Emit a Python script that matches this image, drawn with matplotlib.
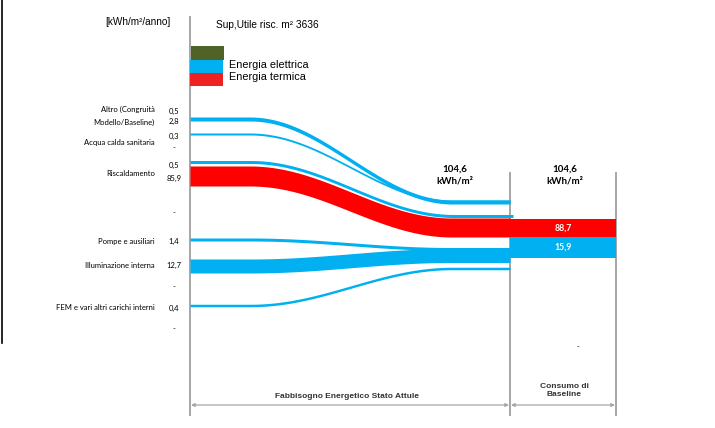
import numpy as np
import matplotlib
matplotlib.use("Agg")
import matplotlib.pyplot as plt
from matplotlib.patches import Rectangle

# --- data -------------------------------------------------------------
categories = ["Altro (Congruità\nModello/Baseline)", "Acqua calda sanitaria",
              "Riscaldamento", "Pompe e ausiliari", "Illuminazione interna",
              "FEM e vari altri carichi interni"]
value_labels = ["0,5", "2,8", "0,3", "-", "0,5", "85,9", "-",
                "1,4", "12,7", "-", "0,4", "-"]
flow_names = ["Altro", "Acqua", "Risc. el.", "Risc. term.", "Pompe",
              "Illuminazione", "FEM"]
flow_values = [3.3, 0.3, 0.5, 85.9, 1.4, 12.7, 0.4]
flow_kind = ["el", "el", "el", "th", "el", "el", "el"]
baseline_labels = ["88,7", "15,9"]
baseline_values = [88.7, 15.9]
total_label = "104,6\nkWh/m²"
surface = 3636

BLUE = "#00B0F0"
RED = "#FF0000"
GREEN = "#4F6228"
GREY = "#A6A6A6"
colors = {"el": BLUE, "th": RED}

# --- layout (pixel coordinates of the 715x428 picture) ----------------
cat_y = [116, 143, 173, 241, 265, 308]
val_y = [111, 121, 136, 148, 165, 178, 213, 241, 265, 287, 308, 329]
flow_left = [119, 134, 162, 176, 239.5, 266, 305.5]
flow_right = [202, 201, 216, 227.5, 249, 255.5, 268.5]
flow_thick = [4, 2, 3, 20, 3, 14, 2.5]
bar_y = [219, 237]
bar_h = [18.5, 21]

x_left, x_mid, x_right = 190, 510, 616
bend0, bend1 = 250, 452

fig = plt.figure(figsize=(7.15, 4.28), dpi=100)
ax = fig.add_axes([0, 0, 1, 1])
ax.set_xlim(0, 715)
ax.set_ylim(428, 0)
ax.axis("off")

calibri = "Lato"
arial = "Liberation Sans"

# flows
x = np.linspace(x_left, x_mid, 300)
t = np.clip((x - bend0) / (bend1 - bend0), 0, 1)
s = 0.5 - 0.5 * np.cos(np.pi * t)
for i, name in enumerate(flow_names):
    yc = flow_left[i] + (flow_right[i] - flow_left[i]) * s
    h = flow_thick[i] if flow_kind[i] == "el" else flow_thick[i] - 1.0 * s
    x_end = x
    if name == "Risc. el.":
        x_end = np.linspace(x_left, x_mid + 3, 300)
    ax.fill_between(x_end, yc - h / 2, yc + h / 2, color=colors[flow_kind[i]],
                    lw=0, zorder=2)

# baseline bars
for j, v in enumerate(baseline_values):
    c = RED if j == 0 else BLUE
    ax.add_patch(Rectangle((x_mid, bar_y[j]), x_right - x_mid, bar_h[j],
                           color=c, lw=0, zorder=2))
    ax.text((x_mid + x_right) / 2, bar_y[j] + bar_h[j] / 2, baseline_labels[j],
            color="white", fontsize=6.3, fontweight="bold", family=calibri,
            ha="center", va="center", zorder=3)

# grey frame lines
ax.plot([x_left, x_left], [17, 415], color=GREY, lw=1.4, zorder=1)
ax.plot([x_mid, x_mid], [173, 415], color=GREY, lw=1.4, zorder=1)
ax.plot([x_right, x_right], [173, 415], color=GREY, lw=1.4, zorder=1)
ax.plot([2, 2], [0, 343], color="black", lw=1.2)

for xa, xb in [(x_left, x_mid), (x_mid, x_right)]:
    ax.annotate("", xy=(xa + 1, 405), xytext=(xb - 1, 405),
                arrowprops=dict(arrowstyle="<|-|>", color=GREY, lw=0.9,
                                mutation_scale=5, shrinkA=0, shrinkB=0))

# category names and values
for name, y in zip(categories, cat_y):
    ax.text(155, y, name, fontsize=5.5, family=calibri, ha="right",
            va="center", linespacing=1.9)
for lab, y in zip(value_labels, val_y):
    ax.text(174, y, lab, fontsize=5.5, family=calibri, ha="center",
            va="center")
ax.text(578, 347, "-", fontsize=5, family=calibri, ha="center", va="center")

# totals
ax.text(455, 175, total_label, fontsize=7, fontweight="bold", family=calibri,
        ha="center", va="center", linespacing=1.3)
ax.text(565, 175, total_label, fontsize=7, fontweight="bold", family=calibri,
        ha="center", va="center", linespacing=1.3)

# headers
ax.text(138, 22, "[kWh/m²/anno]", fontsize=7.2, family=arial, ha="center",
        va="center")
ax.text(216, 25, f"Sup,Utile risc. m² {surface}", fontsize=7.3, family=arial,
        ha="left", va="center")

# legend
ax.add_patch(Rectangle((191, 46), 33, 14, color=GREEN, lw=0))
ax.add_patch(Rectangle((190, 60), 33, 13, color=BLUE, lw=0))
ax.add_patch(Rectangle((190, 73), 33, 13, color="#EE2222", lw=0))
ax.text(229, 65, "Energia elettrica", fontsize=7.8, family=arial, ha="left",
        va="center")
ax.text(229, 77, "Energia termica", fontsize=7.8, family=arial, ha="left",
        va="center")

# bottom captions
ax.text(347, 396, "Fabbisogno Energetico Stato Attule", fontsize=6,
        fontweight="bold", family=arial, ha="center", va="center",
        color="#333333")
ax.text(564, 390, "Consumo di\nBaseline", fontsize=6, fontweight="bold",
        family=arial, ha="center", va="center", color="#333333",
        linespacing=1.2)

fig.savefig("out.png", dpi=100)
